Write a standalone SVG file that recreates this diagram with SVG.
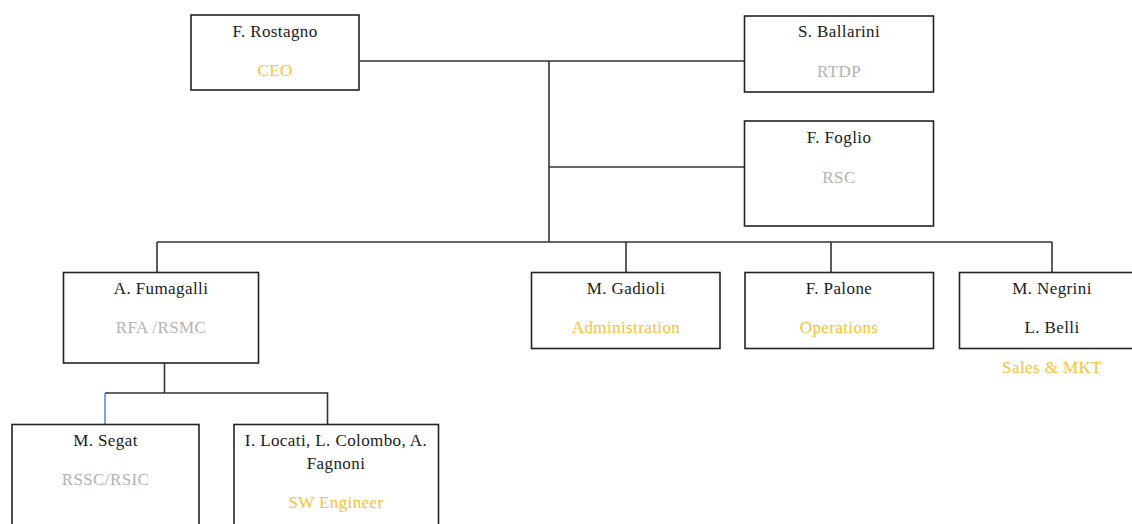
<svg xmlns="http://www.w3.org/2000/svg" width="1132" height="524" viewBox="0 0 1132 524">
<style>
.box{fill:#fff;stroke:#222;stroke-width:1.6}
.ln{fill:none;stroke:#333;stroke-width:1.6}
.blue{fill:none;stroke:#5b8de0;stroke-width:1.6}
text{font-size:17px;letter-spacing:0.4px;text-anchor:middle}
.nm{fill:#1a1a1a}
.gy{fill:#b3b3b3}
.yl{fill:#fec22e}
</style>
<rect width="1132" height="524" fill="#fff"/>
<g id="connectors">
<path class="ln" d="M360 61H744"/>
<path class="ln" d="M549 61V242"/>
<path class="ln" d="M549 167H744"/>
<path class="ln" d="M157 242H1052"/>
<path class="ln" d="M157 242V272"/>
<path class="ln" d="M626 242V272"/>
<path class="ln" d="M831 242V272"/>
<path class="ln" d="M1052 242V272"/>
<path class="ln" d="M164.5 363V393"/>
<path class="ln" d="M105 393H327.5V424"/>
<path class="blue" d="M105 393V424"/>
</g>
<g font-family="'Liberation Serif', 'DejaVu Serif', serif">
<g id="rostagno">
<rect class="box" x="191" y="15" width="168" height="75"/>
<text class="nm" x="275" y="37">F. Rostagno</text>
<text class="yl" x="275" y="76">CEO</text>
</g>
<g id="ballarini">
<rect class="box" x="744.5" y="16" width="189" height="76"/>
<text class="nm" x="839" y="37">S. Ballarini</text>
<text class="gy" x="839" y="77">RTDP</text>
</g>
<g id="foglio">
<rect class="box" x="744.5" y="121" width="189" height="105"/>
<text class="nm" x="839" y="143">F. Foglio</text>
<text class="gy" x="839" y="183">RSC</text>
</g>
<g id="fumagalli">
<rect class="box" x="63.5" y="272.5" width="195" height="90.5"/>
<text class="nm" x="161" y="294">A. Fumagalli</text>
<text class="gy" x="161" y="333">RFA /RSMC</text>
</g>
<g id="gadioli">
<rect class="box" x="531.5" y="272.5" width="188.5" height="76"/>
<text class="nm" x="626" y="294">M. Gadioli</text>
<text class="yl" x="626" y="333">Administration</text>
</g>
<g id="palone">
<rect class="box" x="745" y="272.5" width="188.5" height="76"/>
<text class="nm" x="839" y="294">F. Palone</text>
<text class="yl" x="839" y="333">Operations</text>
</g>
<g id="negrini">
<rect class="box" x="959.5" y="272.5" width="188.5" height="76"/>
<text class="nm" x="1052" y="294">M. Negrini</text>
<text class="nm" x="1052" y="333">L. Belli</text>
<text class="yl" x="1052" y="373">Sales &amp; MKT</text>
</g>
<g id="segat">
<rect class="box" x="12" y="424.5" width="187" height="110"/>
<text class="nm" x="105.5" y="446">M. Segat</text>
<text class="gy" x="105.5" y="485">RSSC/RSIC</text>
</g>
<g id="locati">
<rect class="box" x="234" y="424.5" width="204.5" height="110"/>
<text class="nm" x="336" y="446">I. Locati, L. Colombo, A.</text>
<text class="nm" x="336" y="469">Fagnoni</text>
<text class="yl" x="336" y="508">SW Engineer</text>
</g>
</g>
</svg>
